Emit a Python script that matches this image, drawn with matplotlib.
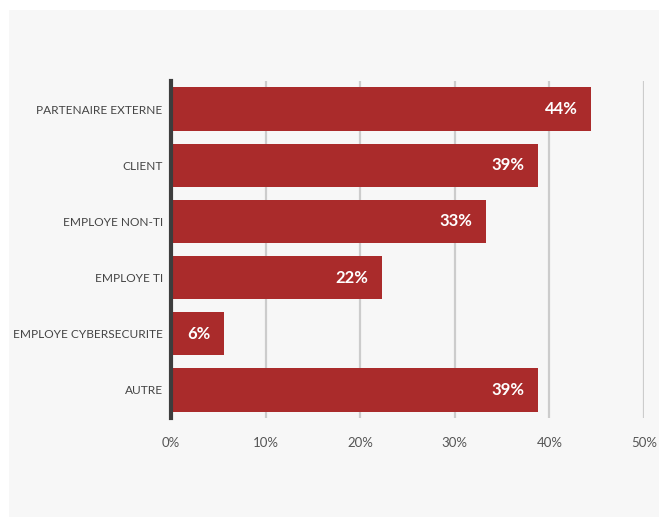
import matplotlib
matplotlib.use("Agg")
import matplotlib.pyplot as plt
from matplotlib.patches import Rectangle

plt.rcParams['font.family'] = ['Lato', 'DejaVu Sans']

categories = ["PARTENAIRE EXTERNE", "CLIENT", "EMPLOYE NON-TI", "EMPLOYE TI",
              "EMPLOYE CYBERSECURITE", "AUTRE"]
values = [44.4, 38.8, 33.3, 22.3, 5.6, 38.8]
labels = ["44%", "39%", "33%", "22%", "6%", "39%"]
ticks = [0, 10, 20, 30, 40, 50]

W, H = 659, 517
fig = plt.figure(figsize=(W / 100, H / 100), dpi=100)
fig.patch.set_facecolor("white")

# grey panel behind the chart
fig.patches.append(Rectangle((9 / W, 0), 1 - 9 / W, 1 - 10 / H,
                             transform=fig.transFigure, facecolor="#f7f7f7",
                             edgecolor="none", zorder=-1))

ax = fig.add_axes([171 / W, 1 - 418 / H, (644 - 171) / W, (418 - 81) / H])
ax.set_facecolor("none")

y = list(range(len(categories)))
ax.barh(y, values, height=0.77, color="#aa2b2b", zorder=3)

for yi, v, lab in zip(y, values, labels):
    ax.text(v - 1.4, yi, lab, ha="right", va="center", color="white",
            fontsize=12, fontweight="bold", zorder=4)

ax.set_xlim(0, 50)
ax.set_ylim(5.5, -0.5)
ax.set_xticks(ticks)
ax.set_xticklabels(["%d%%" % t for t in ticks])
ax.set_yticks(y)
ax.set_yticklabels(categories)

ax.grid(axis="x", color="#cccccc", linewidth=1.6, zorder=0)
ax.tick_params(axis="x", length=0, pad=14, labelsize=9.5, labelcolor="#555555")
ax.tick_params(axis="y", length=0, pad=6, labelsize=8.6, labelcolor="#444444")

for s in ["top", "right", "bottom"]:
    ax.spines[s].set_visible(False)
ax.spines["left"].set_color("#3d3d3d")
ax.spines["left"].set_linewidth(3)
ax.spines["left"].set_zorder(5)

fig.savefig("out.png", dpi=100)
